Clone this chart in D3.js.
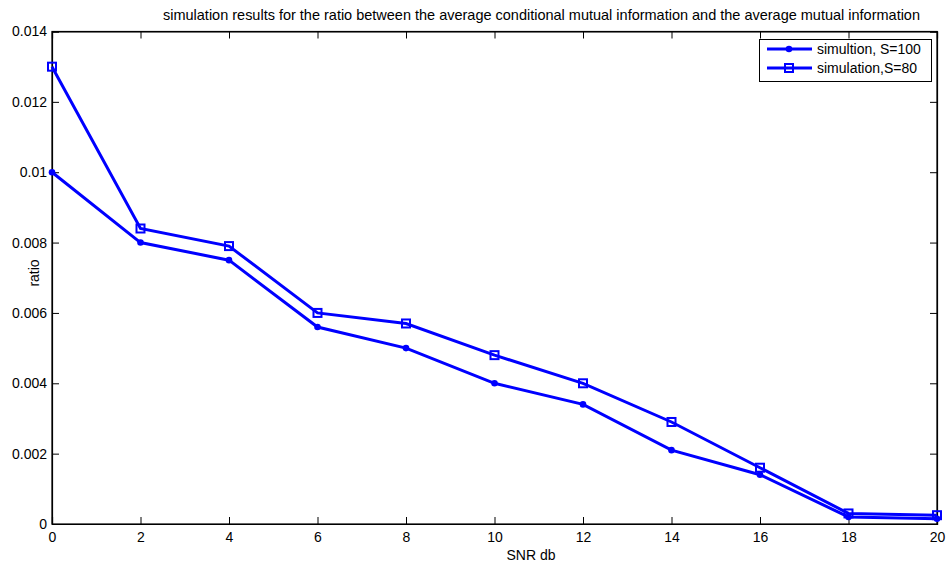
<!DOCTYPE html>
<html><head><meta charset="utf-8">
<script src="https://cdn.jsdelivr.net/npm/d3@7"></script>
<style>body{margin:0;background:#fff;} text{font-family:"Liberation Sans",Arial,sans-serif;}</style>
</head><body>
<svg id="c" width="950" height="569"></svg>
<script>
const snr = [0,2,4,6,8,10,12,14,16,18,20];
const s100 = [0.010,0.008,0.0075,0.0056,0.005,0.004,0.0034,0.0021,0.0014,0.0002,0.00015];
const s80 = [0.013,0.0084,0.0079,0.006,0.0057,0.0048,0.004,0.0029,0.0016,0.0003,0.00025];
const xTicks = [0,2,4,6,8,10,12,14,16,18,20];
const yTicks = [0,0.002,0.004,0.006,0.008,0.01,0.012,0.014];
const seriesNames = ["simultion, S=100","simulation,S=80"];
const title = "simulation results for the ratio between the average conditional mutual information and the average mutual information";

const svg = d3.select("#c");
const L=52,R=937,T=31.5,B=524;
const x = d3.scaleLinear().domain([0,20]).range([L,R]);
const y = d3.scaleLinear().domain([0,0.014]).range([B,T]);
const blue="#0000ff";
const FS=14;

svg.append("rect").attr("x",L).attr("y",T).attr("width",R-L).attr("height",B-T).attr("fill","#fff").attr("stroke","#000").attr("stroke-width",1.2);

const fmtY = d => d===0 ? "0" : String(+d.toFixed(3));
const gx = svg.append("g").attr("transform",`translate(0,${B})`).call(d3.axisBottom(x).tickValues(xTicks).tickSize(-7).tickPadding(8).tickFormat(d3.format("d")));
const gxt = svg.append("g").attr("transform",`translate(0,${T})`).call(d3.axisTop(x).tickValues(xTicks).tickSize(-7).tickFormat(""));
const gy = svg.append("g").attr("transform",`translate(${L},0)`).call(d3.axisLeft(y).tickValues(yTicks).tickSize(-7).tickPadding(5).tickFormat(fmtY));
const gyr = svg.append("g").attr("transform",`translate(${R},0)`).call(d3.axisRight(y).tickValues(yTicks).tickSize(-7).tickFormat(""));
[gx,gxt,gy,gyr].forEach(g=>{g.select(".domain").attr("stroke","#000").attr("stroke-width",1.2);g.selectAll("line").attr("stroke","#000");g.selectAll("text").attr("font-size",FS).attr("fill","#000").style("font-family","Liberation Sans, Arial, sans-serif");});

svg.append("text").attr("x",531).attr("y",560).attr("text-anchor","middle").attr("font-size",FS).text("SNR db");
svg.append("text").attr("transform","translate(39,273) rotate(-90)").attr("text-anchor","middle").attr("font-size",FS).text("ratio");
svg.append("text").attr("x",541.5).attr("y",20).attr("text-anchor","middle").attr("font-size",14.5).attr("textLength",757).text(title);

const line = d3.line().x((d,i)=>x(snr[i])).y(d=>y(d));
svg.append("path").datum(s100).attr("d",line).attr("fill","none").attr("stroke",blue).attr("stroke-width",3);
svg.append("path").datum(s80).attr("d",line).attr("fill","none").attr("stroke",blue).attr("stroke-width",3);
svg.selectAll(".c1").data(s100).enter().append("circle").attr("cx",(d,i)=>x(snr[i])).attr("cy",d=>y(d)).attr("r",3.3).attr("fill",blue);
svg.selectAll(".s1").data(s80).enter().append("rect").attr("x",(d,i)=>x(snr[i])-4).attr("y",d=>y(d)-4).attr("width",8).attr("height",8).attr("fill","none").attr("stroke",blue).attr("stroke-width",2);

const lg = svg.append("g");
lg.append("rect").attr("x",759.5).attr("y",39.5).attr("width",172).attr("height",42).attr("fill","#fff").attr("stroke","#000").attr("stroke-width",1);
const ly=[49,68];
[0,1].forEach(i=>lg.append("line").attr("x1",767).attr("x2",812).attr("y1",ly[i]).attr("y2",ly[i]).attr("stroke",blue).attr("stroke-width",3));
lg.append("circle").attr("cx",789).attr("cy",ly[0]).attr("r",3.3).attr("fill",blue);
lg.append("rect").attr("x",785).attr("y",ly[1]-4).attr("width",8).attr("height",8).attr("fill","none").attr("stroke",blue).attr("stroke-width",2);
seriesNames.forEach((n,i)=>lg.append("text").attr("x",817).attr("y",ly[i]+5).attr("font-size",FS).text(n));
</script>
</body></html>
